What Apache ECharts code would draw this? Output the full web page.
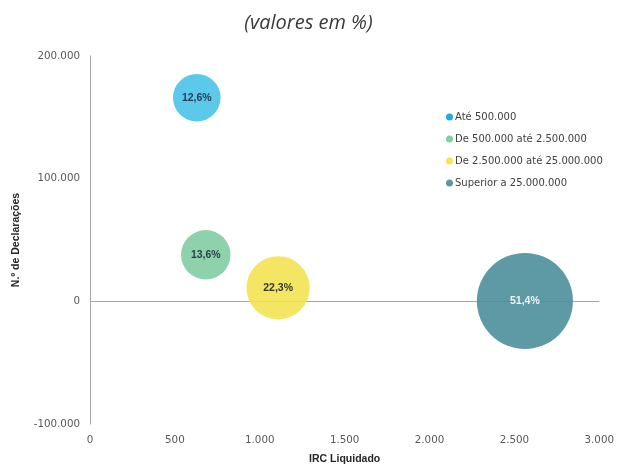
<!DOCTYPE html>
<html>
<head>
<meta charset="utf-8">
<script src="https://cdn.jsdelivr.net/npm/echarts@6/dist/echarts.min.js"></script>
<style>
  html, body { margin: 0; padding: 0; background: #ffffff; overflow: hidden; }
  #chart { width: 617px; height: 470px; }
</style>
</head>
<body>
<div id="chart"></div>
<script>
// IRC bands (legend entries)
const categories = [
  'Até 500.000',
  'De 500.000 até 2.500.000',
  'De 2.500.000 até 25.000.000',
  'Superior a 25.000.000'
];
// IRC Liquidado (x) and N.º de Declarações (y) per band
const ircValues = [629, 682, 1108, 2562];
const declValues = [166000, 38000, 11000, 300];
// Share of total, in %, drives bubble size and label
const shares = [12.6, 13.6, 22.3, 51.4];

const xTicks = { min: 0, max: 3000, step: 500 };
const yTicks = { min: -100000, max: 200000, step: 100000 };

const bubbleColors = ['#4ac3e8', '#81cda1', '#f3e352', '#4d8f9b'];
const legendColors = ['#1eaae2', '#7fd0a4', '#f5e548', '#5a98a6'];
const labelColors = ['#1f2a44', '#1f2a44', '#1f1f1f', '#ffffff'];

function fmtThousands(v) {
  const neg = v < 0;
  const s = String(Math.abs(Math.round(v))).replace(/\B(?=(\d{3})+(?!\d))/g, '.');
  return (neg ? '-' : '') + s;
}
function fmtShare(p) {
  return p.toFixed(1).replace('.', ',') + '%';
}

const axisLabelStyle = { fontFamily: 'DejaVu Sans', fontSize: 10.3, color: '#595959' };
const axisNameStyle = { fontFamily: 'Liberation Sans', fontSize: 10.5, fontWeight: 'bold', color: '#262626' };

const series = categories.map((name, i) => ({
  name: name,
  type: 'scatter',
  data: [[ircValues[i], declValues[i], shares[i]]],
  symbol: 'circle',
  symbolSize: d => 13.4 * Math.sqrt(d[2]),
  itemStyle: { color: bubbleColors[i], opacity: 0.9 },
  label: {
    show: true,
    position: 'inside',
    formatter: p => fmtShare(p.data[2]),
    fontFamily: 'Liberation Sans',
    fontSize: 10.5,
    fontWeight: 'bold',
    color: labelColors[i]
  },
  emphasis: { disabled: true },
  z: 3
}));

// horizontal line at zero, under the bubbles
series.push({
  type: 'scatter',
  data: [],
  silent: true,
  z: 1,
  markLine: {
    silent: true,
    symbol: 'none',
    label: { show: false },
    lineStyle: { color: '#a6a6a6', width: 1, type: 'solid' },
    data: [{ yAxis: 0 }],
    z: 1
  }
});

const chart = echarts.init(document.getElementById('chart'), null, { renderer: 'canvas', width: 617, height: 470 });
chart.setOption({
  animation: false,
  backgroundColor: '#ffffff',
  title: {
    text: '(valores em %)',
    left: 'center',
    top: 8,
    textStyle: {
      fontFamily: 'Open Sans',
      fontStyle: 'italic',
      fontWeight: 'normal',
      fontSize: 20,
      color: '#3a3a3a'
    }
  },
  legend: {
    orient: 'vertical',
    left: 441,
    top: 106,
    itemWidth: 7,
    itemHeight: 7,
    itemGap: 10,
    icon: 'circle',
    selectedMode: false,
    textStyle: {
      fontFamily: 'DejaVu Sans',
      fontSize: 10,
      color: '#404040',
      lineHeight: 12,
      padding: [0, 0, 0, -3]
    },
    data: categories.map((name, i) => ({ name: name, itemStyle: { color: legendColors[i], opacity: 1 } }))
  },
  grid: { left: 90, top: 56, width: 510, height: 374, containLabel: false },
  xAxis: {
    type: 'value',
    min: xTicks.min,
    max: xTicks.max,
    interval: xTicks.step,
    name: 'IRC Liquidado',
    nameLocation: 'middle',
    nameGap: 30,
    nameTextStyle: axisNameStyle,
    axisLine: { show: false, onZero: false },
    axisTick: { show: false },
    splitLine: { show: false },
    axisLabel: Object.assign({ margin: 11, formatter: v => fmtThousands(v) }, axisLabelStyle)
  },
  yAxis: {
    type: 'value',
    min: yTicks.min,
    max: yTicks.max,
    interval: yTicks.step,
    name: 'N.º de Declarações',
    nameLocation: 'middle',
    nameGap: 68,
    nameRotate: 90,
    nameTextStyle: axisNameStyle,
    axisLine: { show: true, onZero: false, lineStyle: { color: '#a6a6a6', width: 1 } },
    axisTick: { show: false },
    splitLine: { show: false },
    axisLabel: Object.assign({ margin: 10, formatter: v => fmtThousands(v) }, axisLabelStyle)
  },
  series: series
});
</script>
</body>
</html>
